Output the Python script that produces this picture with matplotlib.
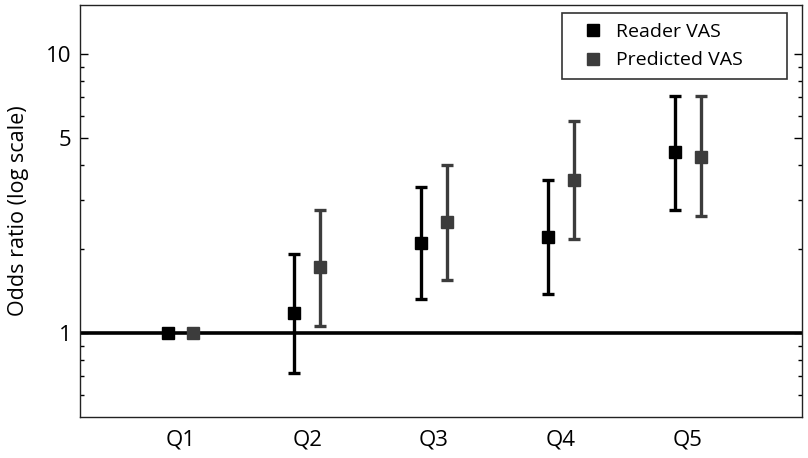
import matplotlib.pyplot as plt
import matplotlib.ticker as mticker
from matplotlib.lines import Line2D
import numpy as np

plt.rcParams['font.family'] = ['Open Sans', 'DejaVu Sans']

# quintiles
categories = ['Q1', 'Q2', 'Q3', 'Q4', 'Q5']
# reader VAS: odds ratio, lower CI, upper CI
reader_or = [1.0, 1.18, 2.10, 2.21, 4.45]
reader_lo = [1.0, 0.72, 1.32, 1.38, 2.76]
reader_hi = [1.0, 1.92, 3.34, 3.54, 7.10]
# predicted VAS
pred_or = [1.0, 1.72, 2.50, 3.54, 4.27]
pred_lo = [1.0, 1.06, 1.55, 2.17, 2.63]
pred_hi = [1.0, 2.76, 4.00, 5.75, 7.05]

black = 'black'
grey = '#3c3c3c'

fig = plt.figure(figsize=(8.08, 4.58), dpi=100)
ax = fig.add_axes([0.099, 0.0895, 0.8936, 0.8995])

x = np.arange(1, len(categories) + 1)
off = 0.1

r = np.array(reader_or)
p = np.array(pred_or)
r_err = [r - np.array(reader_lo), np.array(reader_hi) - r]
p_err = [p - np.array(pred_lo), np.array(pred_hi) - p]

ax.axhline(1, color='black', lw=2.6, zorder=1)

ax.errorbar(x - off, r, yerr=r_err, fmt='s', color=black, ms=8.5,
            elinewidth=2.4, capsize=4.5, capthick=2.4, zorder=3)
ax.errorbar(x + off, p, yerr=p_err, fmt='s', color=grey, ms=8.5,
            elinewidth=2.4, capsize=4.5, capthick=2.4, zorder=3)

ax.set_yscale('log')
ax.set_ylim(0.5, 15)
ax.set_xlim(0.21, 5.9)
ax.yaxis.set_major_locator(mticker.FixedLocator([1, 5, 10]))
ax.yaxis.set_major_formatter(mticker.FixedFormatter(['1', '5', '10']))
ax.yaxis.set_minor_locator(mticker.FixedLocator([0.6, 0.7, 0.8, 0.9, 2, 3, 4, 6, 7, 8, 9]))
ax.yaxis.set_minor_formatter(mticker.NullFormatter())
ax.tick_params(axis='y', which='major', direction='in', length=6, width=1, labelsize=16,
               right=True, pad=6)
ax.tick_params(axis='y', which='minor', direction='in', length=3, width=1, right=True)

ax.set_xticks(x)
ax.set_xticklabels(categories)
ax.tick_params(axis='x', length=0, labelsize=16, pad=9)

ax.set_ylabel('Odds ratio (log scale)', fontsize=15.5, labelpad=12)

for s in ax.spines.values():
    s.set_linewidth(1)
    s.set_color('#222222')

handles = [Line2D([], [], ls='none', marker='s', ms=8.5, color=black),
           Line2D([], [], ls='none', marker='s', ms=8.5, color=grey)]
leg = ax.legend(handles, ['Reader VAS', 'Predicted VAS'], loc='upper left',
                mode='expand', bbox_to_anchor=(0.6676, 0.9806, 0.3116, 0.0),
                fontsize=14, frameon=True, fancybox=False, edgecolor='black',
                handletextpad=0.1, borderpad=0.5, labelspacing=0.55,
                handlelength=2.2, borderaxespad=0)
leg.get_frame().set_linewidth(1.2)

fig.savefig('out.png', dpi=100)
